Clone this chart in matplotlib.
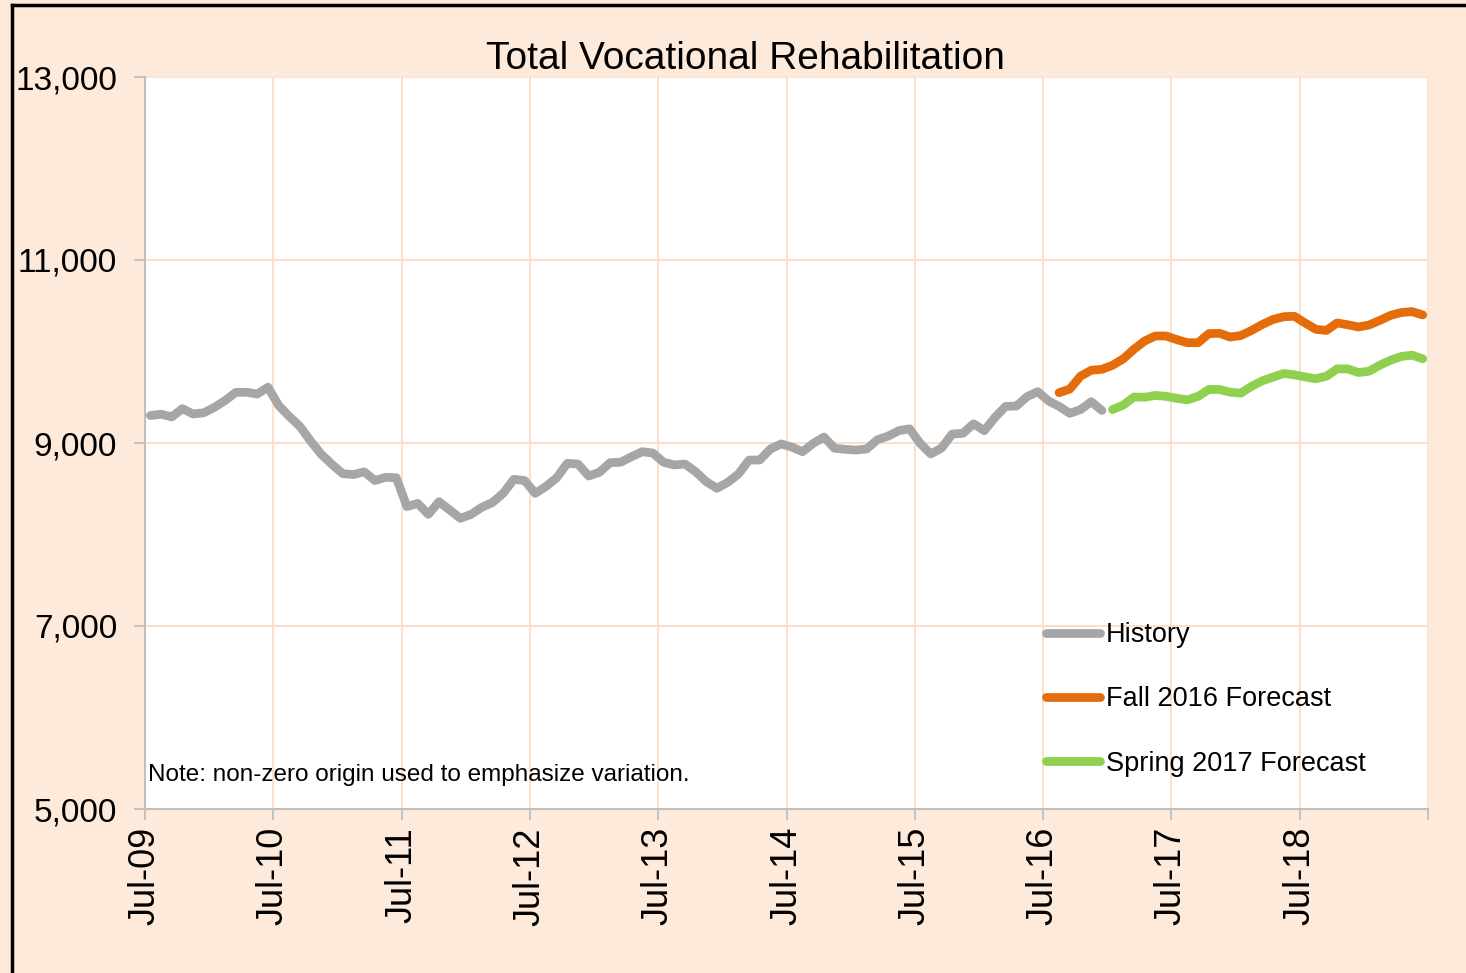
import matplotlib
matplotlib.use("Agg")
import matplotlib.pyplot as plt
from matplotlib.lines import Line2D
import numpy as np

# ---- data (monthly, starting Jul-09) ----
history = [9300, 9315, 9285, 9375, 9317, 9330, 9390, 9465, 9554, 9554, 9535, 9610,
           9410, 9290, 9180, 9020, 8875, 8765, 8665, 8655, 8685, 8590, 8625, 8620,
           8305, 8340, 8220, 8358, 8268, 8177, 8220, 8297, 8350, 8450, 8603, 8590,
           8450, 8525, 8620, 8778, 8770, 8639, 8680, 8785, 8790, 8850, 8905, 8890,
           8790, 8760, 8770, 8686, 8577, 8505, 8570, 8660, 8814, 8814, 8935, 8990,
           8955, 8905, 8996, 9065, 8942, 8931, 8923, 8935, 9035, 9075, 9135, 9155,
           8996, 8880, 8945, 9098, 9106, 9210, 9135, 9280, 9400, 9404, 9506, 9561,
           9460, 9400, 9324, 9365, 9451, 9355]
history_start = 0

fall_2016 = [9550, 9590, 9730, 9795, 9805, 9850, 9920, 10025, 10115, 10170, 10170,
             10130, 10096, 10096, 10195, 10199, 10158, 10175, 10230, 10295, 10350,
             10380, 10385, 10312, 10243, 10230, 10312, 10292, 10268, 10290, 10340,
             10395, 10426, 10436, 10400]
fall_start = 85

spring_2017 = [9365, 9415, 9503, 9500, 9520, 9510, 9488, 9472, 9510, 9585, 9585,
               9555, 9545, 9620, 9680, 9720, 9760, 9745, 9722, 9702, 9730, 9810,
               9810, 9770, 9785, 9850, 9905, 9945, 9960, 9920]
spring_start = 90

n_months = 120
tick_labels = ["Jul-09", "Jul-10", "Jul-11", "Jul-12", "Jul-13",
               "Jul-14", "Jul-15", "Jul-16", "Jul-17", "Jul-18"]
y_ticks = [5000, 7000, 9000, 11000, 13000]
series_names = ["History", "Fall 2016 Forecast", "Spring 2017 Forecast"]

# ---- style ----
plt.rcParams['font.family'] = ['Liberation Sans', 'DejaVu Sans']
bg = "#FDEADA"
grid_c = "#FBDCC6"
c_hist = "#A6A6A6"
c_fall = "#E46C0A"
c_spring = "#8FD14F"

W, H = 1466, 973
fig = plt.figure(figsize=(W / 100, H / 100), dpi=100, facecolor=bg)
ax = fig.add_axes([145 / W, 1 - 809 / H, (1428 - 145) / W, (809 - 77) / H])
ax.set_facecolor("white")

def xs(start, vals):
    return np.arange(start, start + len(vals)) + 0.5

lw = 6.3
ax.plot(xs(history_start, history), history, color=c_hist, lw=lw,
        solid_capstyle="round", solid_joinstyle="round", label=series_names[0])
ax.plot(xs(fall_start, fall_2016), fall_2016, color=c_fall, lw=lw,
        solid_capstyle="round", solid_joinstyle="round", label=series_names[1])
ax.plot(xs(spring_start, spring_2017), spring_2017, color=c_spring, lw=lw,
        solid_capstyle="round", solid_joinstyle="round", label=series_names[2])

ax.set_xlim(0, n_months)
ax.set_ylim(5000, 13000)
ax.set_yticks(y_ticks)
ax.set_yticklabels([f"{v:,}" for v in y_ticks], fontsize=24)
ax.set_xticks(np.arange(0, n_months + 1, 12))
ax.set_xticklabels(tick_labels + [""], rotation=90, fontsize=26)

ax.grid(True, color=grid_c, lw=1.3, zorder=0)
ax.set_axisbelow(True)
for s in ["top", "right"]:
    ax.spines[s].set_visible(False)
for s in ["left", "bottom"]:
    ax.spines[s].set_color("#BFBFBF")
    ax.spines[s].set_linewidth(1.5)
ax.tick_params(axis="both", color="#BFBFBF", length=8, width=1.3)
ax.tick_params(axis="y", pad=12)
ax.tick_params(axis="x", pad=5)
for lab in ax.get_yticklabels():
    lab.set_verticalalignment("center_baseline")

ax.set_title("Total Vocational Rehabilitation", fontsize=28, pad=3, x=0.468)

ax.text(0.002, 0.047, "Note: non-zero origin used to emphasize variation.",
        transform=ax.transAxes, fontsize=17.5, va="center", ha="left")

leg = ax.legend(loc="upper left",
                bbox_to_anchor=((1046 - 145) / (1428 - 145), 1 - (622 - 77) / (809 - 77)),
                frameon=False, fontsize=19.5, handlelength=2.0, handletextpad=0.2,
                labelspacing=1.42, borderaxespad=0, borderpad=0)
for h in leg.get_lines():
    h.set_linewidth(lw)

# figure border (top and left)
fig.add_artist(Line2D([12 / W, 12 / W], [0, 1 - 5 / H], color="black", lw=2.5,
                      transform=fig.transFigure))
fig.add_artist(Line2D([12 / W, 1], [1 - 5 / H, 1 - 5 / H], color="black", lw=2.5,
                      transform=fig.transFigure))

fig.savefig("out.png", dpi=100, facecolor=bg)
